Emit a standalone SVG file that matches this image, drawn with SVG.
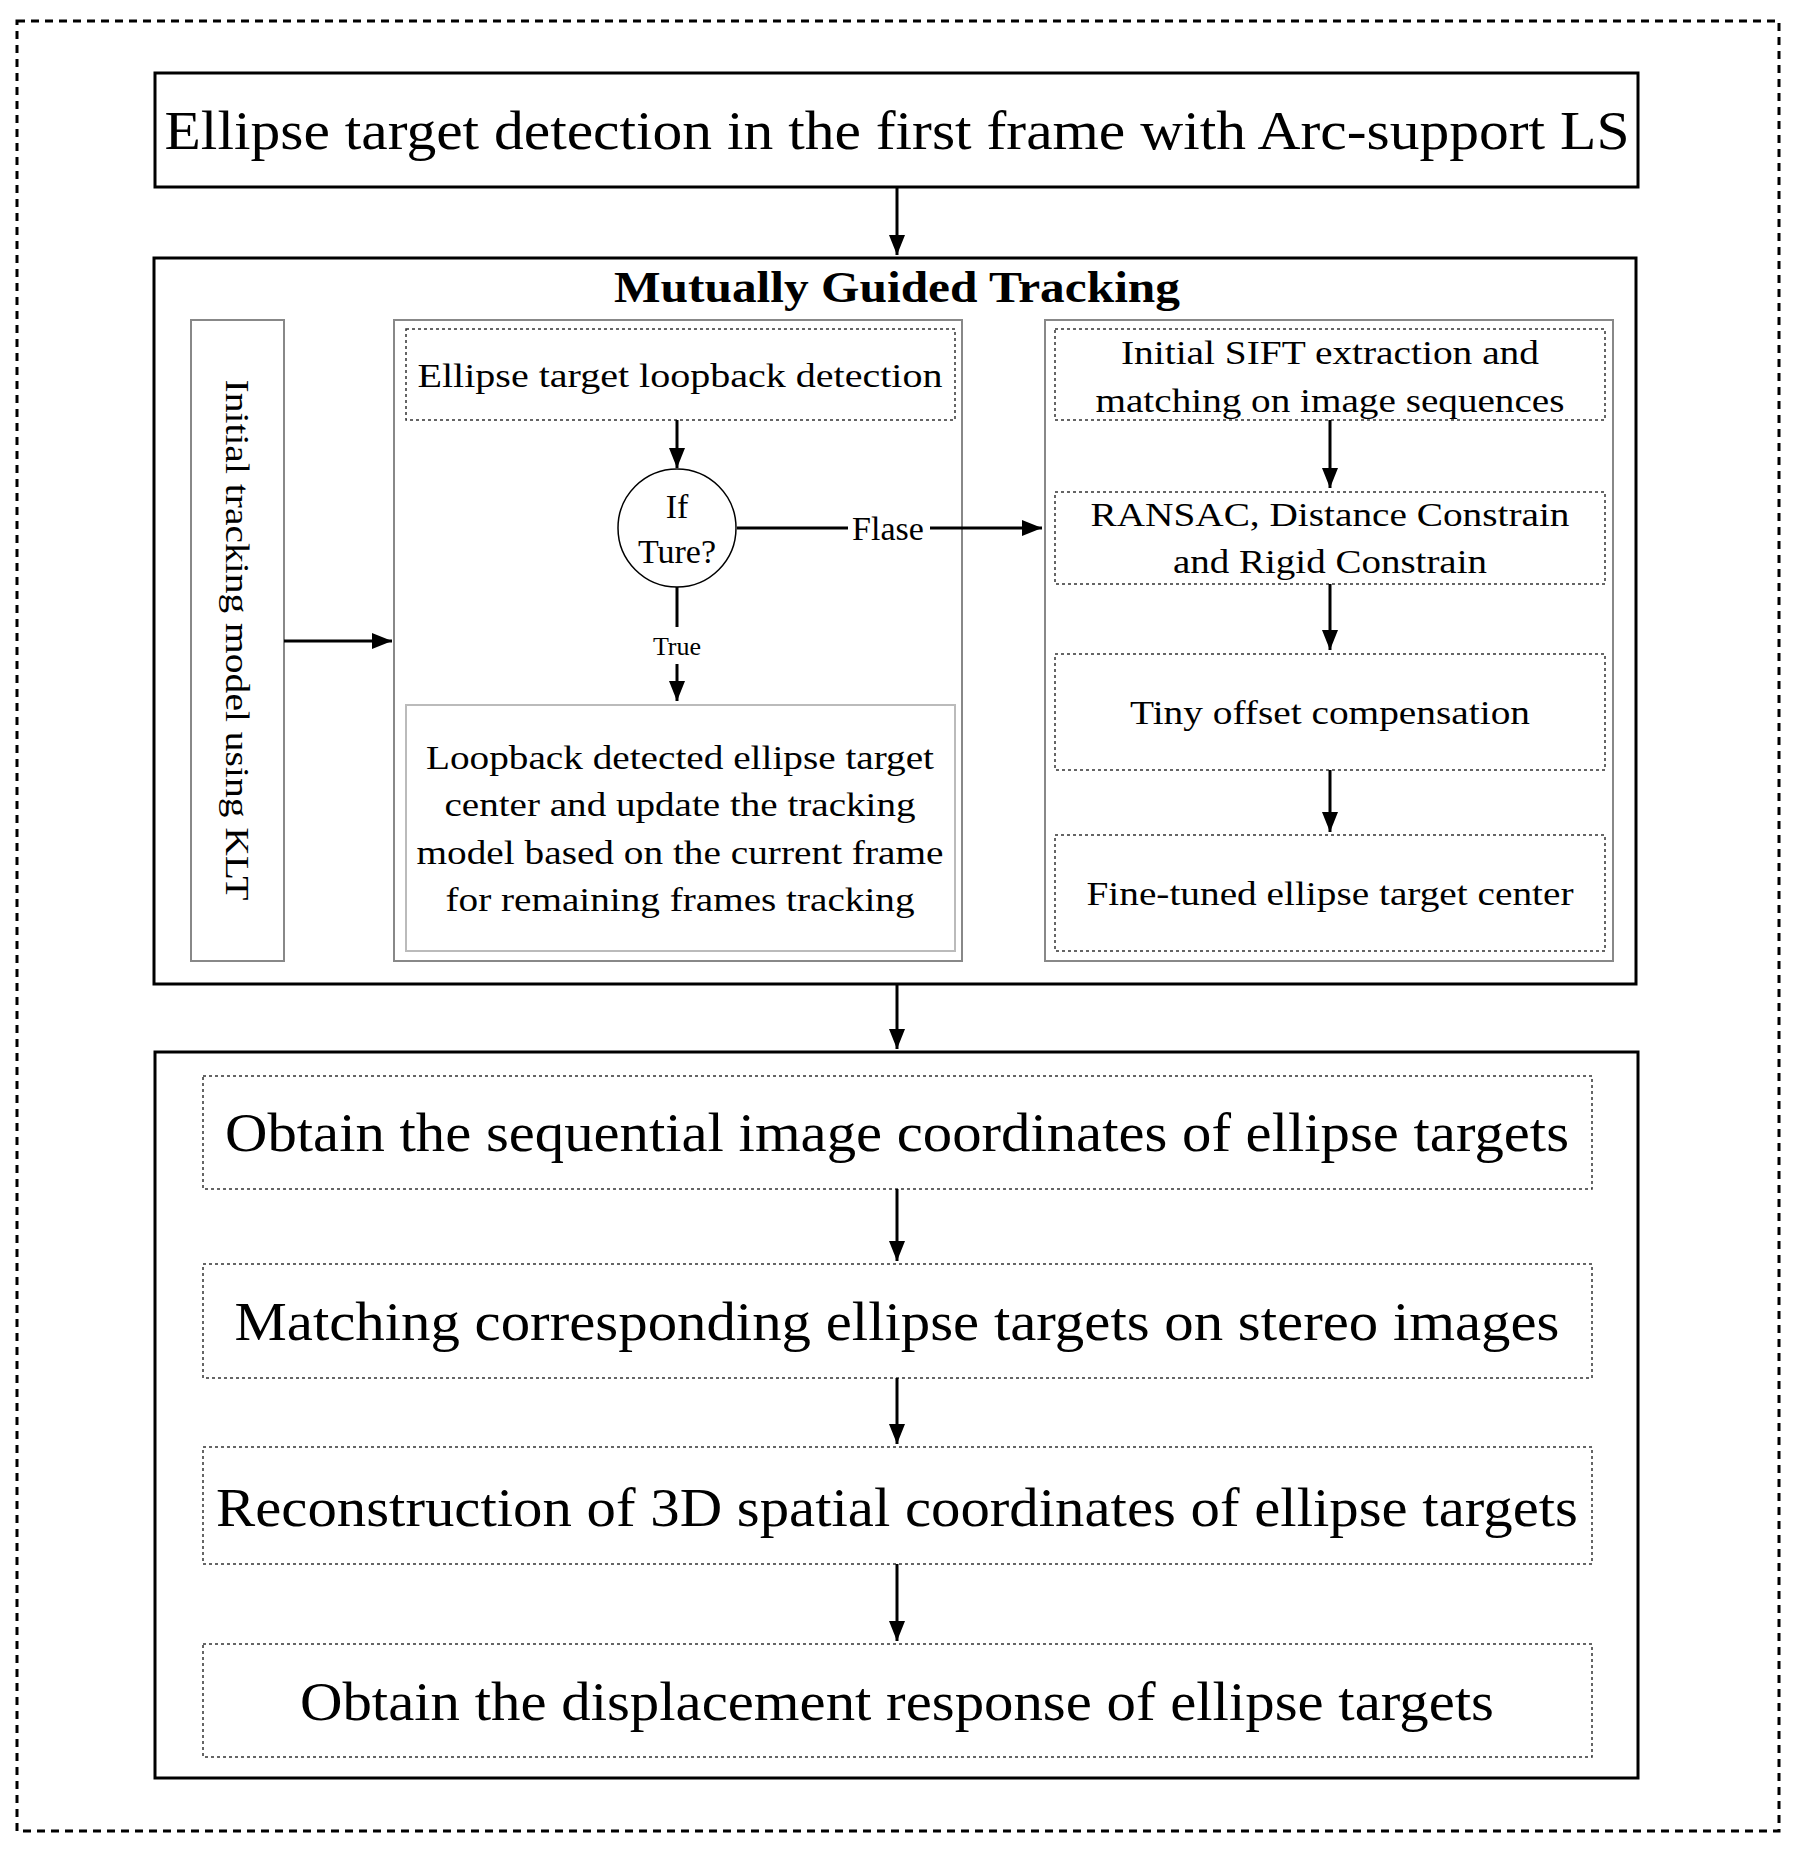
<svg xmlns="http://www.w3.org/2000/svg" width="1800" height="1860" viewBox="0 0 1800 1860">
<style>
text{font-family:"Liberation Serif","Times New Roman",serif;fill:#000;text-anchor:middle;dominant-baseline:central}
.solid{fill:none;stroke:#000;stroke-width:3}
.gray{fill:none;stroke:#888;stroke-width:2}
.dash{fill:none;stroke:#333;stroke-width:1.5;stroke-dasharray:3 3}
.big{font-size:55px}
.mid{font-size:34px}
.ln{stroke:#000;stroke-width:3;fill:none}
</style>
<defs>
<marker id="ah" viewBox="0 0 10 10" refX="10" refY="5" markerWidth="20" markerHeight="16" orient="auto" markerUnits="userSpaceOnUse" preserveAspectRatio="none"><path d="M0,0 L10,5 L0,10 z" fill="#000"/></marker></defs>
<rect x="17" y="21" width="1762" height="1810" fill="none" stroke="#000" stroke-width="3" stroke-dasharray="8 6"/>
<g id="top"><rect class="solid" x="155" y="73" width="1483" height="114"/><text class="big" x="897" y="130" textLength="1465" lengthAdjust="spacingAndGlyphs">Ellipse target  detection in the first frame with Arc-support LS</text></g>
<g id="mgt"><rect class="solid" x="154" y="258" width="1482" height="726"/><text x="897" y="287" font-size="44" font-weight="bold" textLength="566" lengthAdjust="spacingAndGlyphs">Mutually Guided Tracking</text></g>
<g id="klt"><rect class="gray" x="191" y="320" width="93" height="641"/><text class="mid" transform="translate(237,640) rotate(90)" textLength="521" lengthAdjust="spacingAndGlyphs">Initial tracking model using KLT</text></g>
<g id="midbox"><rect class="gray" x="394" y="320" width="568" height="641"/></g>
<g id="loopdet"><rect class="dash" x="406" y="329" width="549" height="91"/><text class="mid" x="680" y="375" textLength="525" lengthAdjust="spacingAndGlyphs">Ellipse target  loopback detection</text></g>
<g id="dec"><circle cx="677" cy="528" r="59" fill="none" stroke="#000" stroke-width="1.5"/><text class="mid" x="677" y="506">If</text><text class="mid" x="677" y="551">Ture?</text></g>
<g id="loopres"><rect x="406" y="705" width="549" height="246" fill="none" stroke="#bbb" stroke-width="2"/>
<text class="mid" x="680" y="757" textLength="508" lengthAdjust="spacingAndGlyphs">Loopback detected ellipse target</text><text class="mid" x="680" y="804" textLength="471" lengthAdjust="spacingAndGlyphs">center and update the tracking</text><text class="mid" x="680" y="852" textLength="527" lengthAdjust="spacingAndGlyphs">model based on the current frame</text><text class="mid" x="680" y="899" textLength="469" lengthAdjust="spacingAndGlyphs">for remaining frames tracking</text></g>
<g id="rightbox"><rect class="gray" x="1045" y="320" width="568" height="641"/></g>
<g id="sift"><rect class="dash" x="1055" y="329" width="550" height="91"/><text class="mid" x="1330" y="352" textLength="418" lengthAdjust="spacingAndGlyphs">Initial SIFT extraction and</text><text class="mid" x="1330" y="400" textLength="469" lengthAdjust="spacingAndGlyphs">matching on image sequences</text></g>
<g id="ransac"><rect class="dash" x="1055" y="492" width="550" height="92"/><text class="mid" x="1330" y="514" textLength="479" lengthAdjust="spacingAndGlyphs">RANSAC, Distance Constrain</text><text class="mid" x="1330" y="561" textLength="314" lengthAdjust="spacingAndGlyphs">and Rigid Constrain</text></g>
<g id="tiny"><rect class="dash" x="1055" y="654" width="550" height="116"/><text class="mid" x="1330" y="712" textLength="400" lengthAdjust="spacingAndGlyphs">Tiny offset compensation</text></g>
<g id="fine"><rect class="dash" x="1055" y="835" width="550" height="116"/><text class="mid" x="1330" y="893" textLength="487" lengthAdjust="spacingAndGlyphs">Fine-tuned ellipse target center</text></g>
<g id="bottom"><rect class="solid" x="155" y="1052" width="1483" height="726"/></g>
<g id="b1"><rect class="dash" x="203" y="1076" width="1389" height="113"/><text class="big" x="897" y="1132" textLength="1344" lengthAdjust="spacingAndGlyphs">Obtain the sequential image coordinates of ellipse targets</text></g>
<g id="b2"><rect class="dash" x="203" y="1264" width="1389" height="114"/><text class="big" x="897" y="1321" textLength="1325" lengthAdjust="spacingAndGlyphs">Matching corresponding ellipse targets on stereo images</text></g>
<g id="b3"><rect class="dash" x="203" y="1447" width="1389" height="117"/><text class="big" x="897" y="1507" textLength="1362" lengthAdjust="spacingAndGlyphs">Reconstruction of 3D spatial coordinates of ellipse targets</text></g>
<g id="b4"><rect class="dash" x="203" y="1644" width="1389" height="113"/><text class="big" x="897" y="1701" textLength="1194" lengthAdjust="spacingAndGlyphs">Obtain the displacement response of ellipse targets</text></g>
<g id="connectors">
<line class="ln" x1="897" y1="187" x2="897" y2="255" marker-end="url(#ah)"/>
<line class="ln" x1="284" y1="641" x2="392" y2="641" marker-end="url(#ah)"/>
<line class="ln" x1="677" y1="420" x2="677" y2="468" marker-end="url(#ah)"/>
<line class="ln" x1="737" y1="528" x2="1042" y2="528" marker-end="url(#ah)"/>
<rect x="848" y="512" width="82" height="32" fill="#fff"/><text class="mid" x="888" y="528">Flase</text>
<line class="ln" x1="677" y1="587" x2="677" y2="627"/>
<text x="677" y="646" font-size="26">True</text>
<line class="ln" x1="677" y1="664" x2="677" y2="701" marker-end="url(#ah)"/>
<line class="ln" x1="1330" y1="420" x2="1330" y2="488" marker-end="url(#ah)"/>
<line class="ln" x1="1330" y1="584" x2="1330" y2="650" marker-end="url(#ah)"/>
<line class="ln" x1="1330" y1="770" x2="1330" y2="832" marker-end="url(#ah)"/>
<line class="ln" x1="897" y1="984" x2="897" y2="1049" marker-end="url(#ah)"/>
<line class="ln" x1="897" y1="1189" x2="897" y2="1261" marker-end="url(#ah)"/>
<line class="ln" x1="897" y1="1378" x2="897" y2="1444" marker-end="url(#ah)"/>
<line class="ln" x1="897" y1="1564" x2="897" y2="1641" marker-end="url(#ah)"/>
</g>
</svg>
